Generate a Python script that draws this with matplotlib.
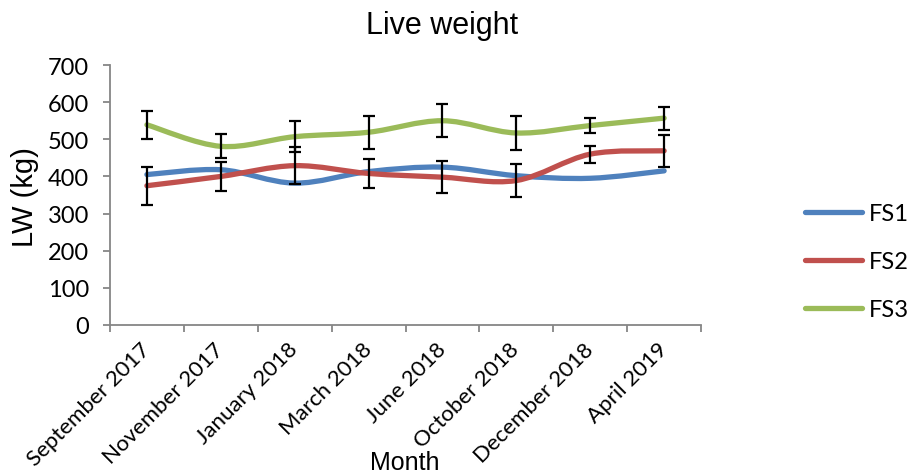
import numpy as np
import matplotlib
matplotlib.use("Agg")
from matplotlib import pyplot as plt
from matplotlib.path import Path
from matplotlib.patches import PathPatch
from matplotlib.lines import Line2D

# Live weight per sampling month for the three farming systems
months = ['September 2017', 'November 2017', 'January 2018', 'March 2018',
          'June 2018', 'October 2018', 'December 2018', 'April 2019']
fs1 = [405, 418, 382, 413, 425, 402, 395, 415]
fs2 = [375, 400, 429, 408, 398, 389, 460, 469]
fs3 = [539, 481, 507, 519, 550, 517, 537, 557]
fs2_err = [51, 40, 49, 38, 43, 44, 23, 43]
fs3_err = [37, 32, 42, 45, 45, 45, 20, 31]

series = [('FS1', fs1, None, '#4F81BD'),
          ('FS2', fs2, fs2_err, '#C0504D'),
          ('FS3', fs3, fs3_err, '#9BBB59')]

tick_font = 'Lato'
title_font = 'Liberation Sans'


def smooth_path(x, y):
    # Excel style smoothed line: cubic bezier through every point
    pts = np.column_stack([x, y]).astype(float)
    n = len(pts)
    verts = [pts[0]]
    codes = [Path.MOVETO]
    for i in range(n - 1):
        p0 = pts[max(i - 1, 0)]
        p1 = pts[i]
        p2 = pts[i + 1]
        p3 = pts[min(i + 2, n - 1)]
        c1 = p1 + (p2 - p0) / 6.0
        c2 = p2 - (p3 - p1) / 6.0
        verts += [c1, c2, p2]
        codes += [Path.CURVE4] * 3
    return Path(verts, codes)


fig = plt.figure(figsize=(9.08, 4.77), dpi=100)
ax = fig.add_axes([0.1211, 0.3166, 0.651, 0.545])

x = np.arange(len(months))
for name, vals, err, col in series:
    patch = PathPatch(smooth_path(x, vals), facecolor='none', edgecolor=col,
                      lw=3.8, capstyle='round', joinstyle='round', zorder=2)
    ax.add_patch(patch)

for name, vals, err, col in series:
    if err is not None:
        ax.errorbar(x, vals, yerr=err, fmt='none', ecolor='black',
                    elinewidth=1.6, capsize=4.5, capthick=1.6, zorder=3)

ax.set_xlim(-0.5, len(months) - 0.5)
ax.set_ylim(0, 700)
ax.set_yticks(range(0, 701, 100))
ax.set_xticks(x)
ax.set_xticklabels(months, rotation=45, ha='right', va='center',
                   rotation_mode='anchor', fontfamily=tick_font, fontsize=16)
ax.set_xticks(np.arange(-0.5, len(months)), minor=True)
ax.tick_params(axis='x', which='major', length=0, pad=15)
ax.tick_params(axis='x', which='minor', length=5, width=1.3, color='#868686')
ax.tick_params(axis='y', length=5, width=1.3, color='#868686', pad=10)
for lab in ax.get_yticklabels():
    lab.set_fontfamily(tick_font)
    lab.set_fontsize(17)

for s in ['top', 'right']:
    ax.spines[s].set_visible(False)
for s in ['left', 'bottom']:
    ax.spines[s].set_color('#868686')
    ax.spines[s].set_linewidth(1.3)

fig.text(0.487, 0.945, 'Live weight', ha='center', va='center',
         fontfamily=title_font, fontsize=22)
fig.text(0.028, 0.587, 'LW (kg)', ha='center', va='center', rotation=90,
         fontfamily=title_font, fontsize=21)
fig.text(0.446, 0.03, 'Month', ha='center', va='center',
         fontfamily=title_font, fontsize=18)

handles = [Line2D([], [], color=c, lw=3.8, solid_capstyle='round')
           for _, _, _, c in series]
fig.legend(handles, [s[0] for s in series], loc='center left',
           bbox_to_anchor=(0.887, 0.449), frameon=False,
           prop={'family': tick_font, 'size': 17}, handlelength=2.4,
           handletextpad=0.3, labelspacing=1.15, borderpad=0,
           borderaxespad=0)

fig.savefig('out.png', dpi=100)
